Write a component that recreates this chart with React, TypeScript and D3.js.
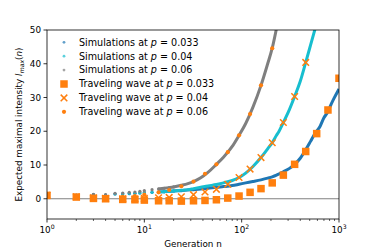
import React from 'react';
import * as d3 from 'd3';

// traveling wave solution, sampled at roughly geometric generations
const twN = [1, 2, 3, 4, 6, 8, 10, 14, 18, 24, 32, 42, 55, 72, 94, 122, 158, 206, 268, 350, 455, 590, 770, 1000];
const tw033 = [1.0, 0.5, 0.1, 0.0, -0.2, -0.3, -0.4, -0.6, -0.6, -0.7, -0.6, -0.5, -0.3, 0.2, 0.8, 1.9, 3.0, 4.7, 7.0, 10.2, 14.0, 19.3, 26.3, 35.7];
const tw04 = [1.0, 0.6, 0.3, 0.1, 0.0, 0.0, 0.1, 0.3, 0.4, 0.6, 1.2, 2.0, 2.8, 4.3, 6.3, 8.8, 12.2, 16.6, 22.6, 30.3, 40.4];
const tw06 = [1.0, 0.6, 0.4, 0.4, 0.6, 0.8, 1.2, 1.9, 2.6, 3.7, 5.1, 7.4, 10.2, 13.8, 18.8, 25.1, 33.6, 44.6];

// simulations
const simN = [1, 2, 3, 4, 5, 6, 7, 8, 9, 10, 12, 14, 16, 18, 20, 24, 28, 32, 38, 45, 55, 65, 80, 94, 110, 130, 158, 185, 206, 228, 240, 268, 310, 350, 400, 455, 510, 570, 640, 700, 770, 810, 880, 1000];
const sim033 = [1.0, 1.0, 1.2, 1.1, 1.4, 1.4, 1.5, 1.6, 1.7, 1.8, 1.9, 2.0, 2.1, 2.2, 2.3, 2.4, 2.6, 2.7, 2.9, 3.1, 3.4, 3.6, 3.9, 4.3, 4.7, 5.1, 5.6, 6.1, 6.5, 7.0, 7.3, 8.0, 9.0, 10.2, 12.0, 14.5, 17.0, 19.5, 21.5, 24.0, 25.8, 27.3, 29.5, 32.5];
const sim04 = [1.0, 1.0, 1.2, 1.1, 1.4, 1.5, 1.6, 1.6, 1.7, 1.8, 1.9, 2.0, 2.1, 2.2, 2.3, 2.5, 2.7, 3.0, 3.4, 3.8, 4.2, 4.7, 5.4, 6.3, 7.6, 9.5, 12.2, 14.8, 16.6, 18.8, 19.8, 22.6, 26.5, 30.3, 34.8, 40.4, 45.5, 50.5];
const sim06 = [1.0, 1.1, 1.3, 1.2, 1.6, 1.7, 1.9, 2.0, 2.2, 2.4, 2.7, 2.9, 3.1, 3.3, 3.5, 4.0, 4.5, 5.1, 6.2, 7.8, 10.2, 12.3, 15.5, 18.8, 22.3, 27.0, 33.6, 40.0, 44.6, 50.5];

const yTicks = [0, 10, 20, 30, 40, 50];
const xTicks = [1, 10, 100, 1000];
const xTickExp = ['0', '1', '2', '3'];

const W = 377, H = 251;
const left = 47, right = 339, top = 30, bottom = 219;
const font = 'DejaVu Sans, sans-serif';
const fs = 8.8;
const legendFs = 9.6;

const blue = '#1f77b4', cyan = '#17becf', gray = '#7f7f7f', orange = '#ff7f0e';

export default function App() {
  const x = d3.scaleLog().domain([1, 1000]).range([left, right]);
  const y = d3.scaleLinear().domain([-6, 50]).range([bottom, top]);

  const sims = [
    { vals: sim033, color: blue },
    { vals: sim04, color: cyan },
    { vals: sim06, color: gray },
  ];

  const line = d3.line<[number, number]>()
    .x(d => x(d[0]))
    .y(d => y(d[1]))
    .curve(d3.curveMonotoneX);

  const minor: number[] = [];
  for (let e = 0; e < 3; e++) {
    for (let k = 2; k < 10; k++) minor.push(k * Math.pow(10, e));
  }

  const legend = [
    { label: 'Simulations at ', p: '0.033', kind: 'sim', color: blue },
    { label: 'Simulations at ', p: '0.04', kind: 'sim', color: cyan },
    { label: 'Simulations at ', p: '0.06', kind: 'sim', color: gray },
    { label: 'Traveling wave at ', p: '0.033', kind: 'square', color: orange },
    { label: 'Traveling wave at ', p: '0.04', kind: 'x', color: orange },
    { label: 'Traveling wave at ', p: '0.06', kind: 'dot', color: orange },
  ];

  const sq = 7.5, cx = 3.3;

  return (
    <svg width={W} height={H} style={{ position: 'absolute', left: 0, top: 0 }} fontFamily={font}>
      <defs>
        <clipPath id="plot">
          <rect x={left} y={top} width={right - left} height={bottom - top} />
        </clipPath>
      </defs>
      <rect width={W} height={H} fill="white" />

      <g clipPath="url(#plot)">
        <line x1={left} x2={right} y1={y(0)} y2={y(0)} stroke="#808080" strokeWidth={1.2} />

        {sims.map((s, i) => {
          const pts = s.vals.map((v, j) => [simN[j], v] as [number, number]);
          const dense = pts.filter(p => p[0] >= 14);
          return (
            <g key={i}>
              <path d={line(dense) || ''} fill="none" stroke={s.color} strokeWidth={3} />
              {pts.filter(p => p[0] <= 20).map((p, j) => (
                <circle key={j} cx={x(p[0])} cy={y(p[1])} r={1.6} fill={s.color} />
              ))}
            </g>
          );
        })}

        {tw033.map((v, i) => (
          <rect key={'s' + i} x={x(twN[i]) - sq / 2} y={y(v) - sq / 2} width={sq} height={sq} fill={orange} />
        ))}
        {tw04.map((v, i) => {
          const px = x(twN[i]), py = y(v);
          return (
            <path key={'x' + i} d={`M${px - cx},${py - cx}L${px + cx},${py + cx}M${px - cx},${py + cx}L${px + cx},${py - cx}`}
              stroke={orange} strokeWidth={1.5} fill="none" />
          );
        })}
        {tw06.map((v, i) => (
          <circle key={'d' + i} cx={x(twN[i])} cy={y(v)} r={2.1} fill={orange} />
        ))}
      </g>

      {/* spines */}
      <rect x={left} y={top} width={right - left} height={bottom - top} fill="none" stroke="#000" strokeWidth={0.8} />

      {/* y axis */}
      {yTicks.map(t => (
        <g key={t}>
          <line x1={left - 3.5} x2={left} y1={y(t)} y2={y(t)} stroke="#000" strokeWidth={0.8} />
          <text x={left - 6} y={y(t)} dy="0.35em" textAnchor="end" fontSize={fs}>{t}</text>
        </g>
      ))}

      {/* x axis */}
      {xTicks.map((t, i) => (
        <g key={t}>
          <line x1={x(t)} x2={x(t)} y1={bottom} y2={bottom + 3.5} stroke="#000" strokeWidth={0.8} />
          <text x={x(t)} y={bottom + 14} textAnchor="middle" fontSize={fs}>
            10<tspan fontSize={fs * 0.7} dy={-4}>{xTickExp[i]}</tspan>
          </text>
        </g>
      ))}
      {minor.map(t => (
        <line key={t} x1={x(t)} x2={x(t)} y1={bottom} y2={bottom + 2} stroke="#000" strokeWidth={0.6} />
      ))}

      <text x={(left + right) / 2} y={bottom + 28} textAnchor="middle" fontSize={fs}>Generation n</text>
      <text transform={`translate(22,${(top + bottom) / 2}) rotate(-90)`} textAnchor="middle" fontSize={fs}>
        Expected maximal intensity <tspan fontStyle="italic">I</tspan>
        <tspan fontStyle="italic" fontSize={fs * 0.7} dy={2}>max</tspan>
        <tspan dy={-2}>(</tspan><tspan fontStyle="italic">n</tspan>)
      </text>

      {/* legend */}
      {legend.map((l, i) => {
        const ly = 42.3 + i * 13.9;
        const mx = 64;
        let marker;
        if (l.kind === 'sim') marker = <circle cx={mx} cy={ly} r={1.4} fill={l.color} opacity={0.7} />;
        else if (l.kind === 'square') marker = <rect x={mx - sq / 2} y={ly - sq / 2} width={sq} height={sq} fill={l.color} />;
        else if (l.kind === 'x') marker = <path d={`M${mx - cx},${ly - cx}L${mx + cx},${ly + cx}M${mx - cx},${ly + cx}L${mx + cx},${ly - cx}`} stroke={l.color} strokeWidth={1.5} />;
        else marker = <circle cx={mx} cy={ly} r={2.1} fill={l.color} />;
        return (
          <g key={i}>
            {marker}
            <text x={79} y={ly} dy="0.35em" fontSize={legendFs}>
              {l.label}<tspan fontStyle="italic">p</tspan> = {l.p}
            </text>
          </g>
        );
      })}
    </svg>
  );
}
